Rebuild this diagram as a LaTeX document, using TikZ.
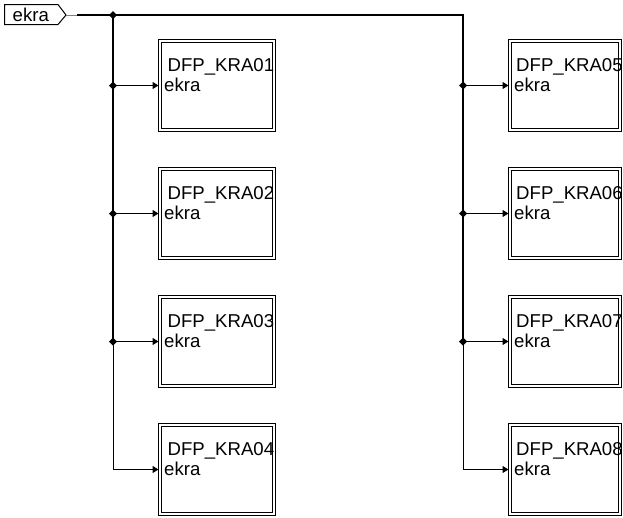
\documentclass[tikz,border=0pt]{standalone}
\usepackage{fontspec}
\setmainfont{Liberation Sans}
\usetikzlibrary{arrows.meta}
\begin{document}
\begin{tikzpicture}[x=1pt,y=-1pt,
  bus/.style={line width=2pt,black},
  branch/.style={line width=1pt,black,-{Triangle[length=6pt,width=7pt]}},
  lbl/.style={anchor=base west,inner sep=0pt,font=\fontsize{18.6}{18.6}\selectfont},
  boxouter/.style={draw=black,line width=1pt},
  boxinner/.style={draw=black,line width=1pt}]
\useasboundingbox (0,0) rectangle (623,517);
% input tag
\draw[line width=1pt] (4.5,4.5) -- (58,4.5) -- (66,15) -- (58,24.5) -- (4.5,24.5) -- cycle;
\node[lbl] (tagtext) at (12.5,21) {ekra};
\coordinate (tagtip) at (66,15);
\coordinate (g) at (77,15);
\draw[line width=1pt,gray] (tagtip) -- (g);
% bus coordinates
\coordinate (jL0) at (113,15);
\coordinate (cR) at (463,15);
\foreach \i/\y in {1/85.5,2/213.5,3/341.5}{
  \coordinate (jL\i) at (113,\y);
  \coordinate (jR\i) at (463,\y);
}
\coordinate (cL4) at (113,469.5);
\coordinate (cR4) at (463,469.5);
% boxes
\foreach \n/\x/\w/\y/\d in {01/158.5/117/39.5/9,02/158.5/117/167.5/9,03/158.5/117/295.5/9,04/158.5/117/423.5/9,
                        05/508.5/113/39.5/7.5,06/508.5/113/167.5/7.5,07/508.5/113/295.5/7.5,08/508.5/113/423.5/7.5}{
  \draw[boxouter] (\x,\y) rectangle ++(\w,92);
  \draw[boxinner] (\x+3,\y+3) rectangle ++(\w-6,86);
  \coordinate (in\n) at (\x,\y+46);
  \node[lbl] (t\n) at (\x+\d,\y+32) {DFP\_KRA\n};
  \node[lbl] (p\n) at (\x+5.5,\y+52) {ekra};
}
% buses
\draw[bus] (g) -- (cR) -- (jR3);
\draw[bus] (jL0) -- (jL3);
\draw[line width=1pt] (jL3) -- (cL4);
\draw[line width=1pt] (jR3) -- (cR4);
% branches
\draw[branch] (jL1) -- (jL1 -| in01);
\draw[branch] (jL2) -- (jL2 -| in02);
\draw[branch] (jL3) -- (jL3 -| in03);
\draw[branch] (cL4) -- (cL4 -| in04);
\draw[branch] (jR1) -- (jR1 -| in05);
\draw[branch] (jR2) -- (jR2 -| in06);
\draw[branch] (jR3) -- (jR3 -| in07);
\draw[branch] (cR4) -- (cR4 -| in08);
% junction dots
\foreach \c in {jL0,jL1,jL2,jL3,jR1,jR2,jR3}{
  \fill (\c) +(-4,0) -- +(0,-4) -- +(4,0) -- +(0,4) -- cycle;
}
\end{tikzpicture}
\end{document}
